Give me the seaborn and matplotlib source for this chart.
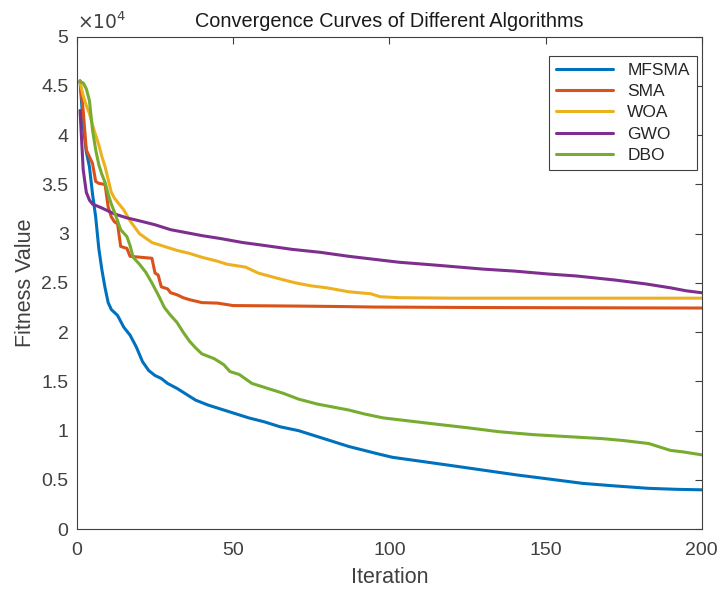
import numpy as np
import pandas as pd
import seaborn as sns
import matplotlib.pyplot as plt
from matplotlib.ticker import FuncFormatter, MultipleLocator

# values (fitness, raw units)
mfsma_it = [1, 2, 3, 4, 5, 6, 7, 8, 9, 10, 11, 13, 15, 17, 19, 21, 23, 25, 27, 29, 32, 35, 38, 42, 46, 50,
            55, 60, 65, 71, 76, 82, 87, 92, 97, 101, 110, 119, 130, 141, 151, 162, 172, 183, 192, 200]
mfsma = [45500, 41000, 38300, 36800, 34000, 31700, 28500, 26300, 24500, 23000, 22300, 21700, 20500, 19700,
         18500, 17000, 16100, 15600, 15300, 14800, 14300, 13700, 13100, 12600, 12200, 11800, 11300, 10900,
         10400, 10000, 9500, 8900, 8400, 8000, 7600, 7300, 6900, 6500, 6000, 5500, 5100, 4650, 4400, 4150,
         4050, 4000]

sma_it = [1, 2, 3, 4, 5, 6, 7, 9, 10, 11, 12, 13, 14, 16, 17, 24, 25, 26, 27, 29, 30, 32, 34, 36, 40, 45,
          50, 70, 85, 95, 130, 200]
sma = [45500, 42500, 38500, 37800, 37100, 35300, 35100, 35000, 32700, 31700, 31200, 31000, 28700, 28500,
       27700, 27500, 26000, 25800, 24600, 24400, 24000, 23800, 23500, 23300, 23000, 22950, 22700, 22650,
       22600, 22550, 22500, 22450]

woa_it = [1, 2, 3, 4, 5, 6, 7, 8, 9, 10, 11, 12, 13, 15, 17, 20, 24, 28, 32, 36, 40, 45, 48, 54, 58, 65,
          70, 75, 80, 87, 94, 97, 103, 120, 200]
woa = [45400, 44000, 43000, 42200, 41000, 40000, 39000, 37800, 36800, 35500, 34200, 33600, 33200, 32400,
       31300, 30000, 29100, 28700, 28300, 28000, 27600, 27200, 26900, 26600, 26000, 25400, 25000, 24700,
       24500, 24100, 23900, 23600, 23500, 23450, 23450]

gwo_it = [1, 2, 3, 4, 5, 8, 12, 16, 20, 25, 30, 35, 40, 46, 53, 60, 69, 78, 87, 95, 103, 115, 130, 140,
          151, 160, 172, 182, 190, 195, 200]
gwo = [42500, 36500, 34200, 33400, 33000, 32600, 32000, 31600, 31300, 30900, 30400, 30100, 29800, 29500,
       29100, 28800, 28400, 28100, 27700, 27400, 27100, 26800, 26400, 26200, 25900, 25700, 25300, 24900,
       24500, 24200, 24000]

dbo_it = [1, 2, 3, 4, 5, 6, 7, 8, 9, 10, 11, 12, 13, 14, 16, 17, 18, 20, 22, 24, 26, 28, 30, 32, 34, 36,
          38, 40, 44, 47, 49, 52, 56, 60, 66, 71, 77, 82, 87, 92, 98, 106, 114, 125, 135, 146, 157, 168,
          175, 183, 187, 190, 194, 200]
dbo = [45400, 45300, 44700, 43500, 40500, 38500, 37000, 36000, 35200, 34000, 33000, 32200, 31300, 30400,
       29700, 28800, 27600, 26900, 26100, 25000, 23800, 22500, 21700, 21000, 20000, 19100, 18400, 17800,
       17300, 16700, 16000, 15700, 14800, 14400, 13800, 13200, 12700, 12400, 12100, 11700, 11300, 11000,
       10700, 10300, 9900, 9600, 9400, 9200, 9000, 8700, 8300, 8000, 7850, 7550]

algos = ['MFSMA', 'SMA', 'WOA', 'GWO', 'DBO']
colors = ['#0072BD', '#D95319', '#EDB120', '#7E2F8E', '#77AC30']

series = [(mfsma_it, mfsma), (sma_it, sma), (woa_it, woa), (gwo_it, gwo), (dbo_it, dbo)]
df = pd.concat([pd.DataFrame({'Iteration': it, 'Fitness': v, 'Algorithm': name})
                for name, (it, v) in zip(algos, series)], ignore_index=True)

sns.set_style('white')
plt.rcParams['font.family'] = ['Liberation Sans', 'DejaVu Sans']

grey = '#404040'
fig = plt.figure(figsize=(7.19, 5.90), dpi=100)
ax = fig.add_axes([0.107, 0.103, 0.869, 0.835])

sns.lineplot(data=df, x='Iteration', y='Fitness', hue='Algorithm', hue_order=algos,
             palette=colors, linewidth=2.2, ax=ax, sort=True)

ax.set_xlim(0, 200)
ax.set_ylim(0, 50000)
ax.xaxis.set_major_locator(MultipleLocator(50))
ax.yaxis.set_major_locator(MultipleLocator(5000))
ax.yaxis.set_major_formatter(FuncFormatter(lambda v, p: f'{v / 1e4:g}'))
ax.tick_params(direction='in', top=True, right=True, length=5, width=0.8,
               colors=grey, labelsize=14)
ax.tick_params(axis='x', pad=9)
ax.tick_params(axis='y', pad=6)
for s in ax.spines.values():
    s.set_color(grey)
    s.set_linewidth(0.8)

ax.text(0.0, 1.008, r'$\times10^4$', transform=ax.transAxes, ha='left', va='bottom',
        fontsize=13.5, color=grey)
ax.set_title('Convergence Curves of Different Algorithms', fontsize=14.3, color='#1a1a1a', pad=7)
ax.set_xlabel('Iteration', fontsize=15.5, color=grey, labelpad=6)
ax.set_ylabel('Fitness Value', fontsize=15.5, color=grey, labelpad=4)

leg = ax.legend(loc='upper right', bbox_to_anchor=(0.992, 0.961), borderaxespad=0,
                fontsize=12.5, frameon=True, fancybox=False,
                edgecolor=grey, framealpha=1, handlelength=3.3, labelspacing=0.35)
leg.get_frame().set_linewidth(0.8)

fig.savefig('out.png', dpi=100)
